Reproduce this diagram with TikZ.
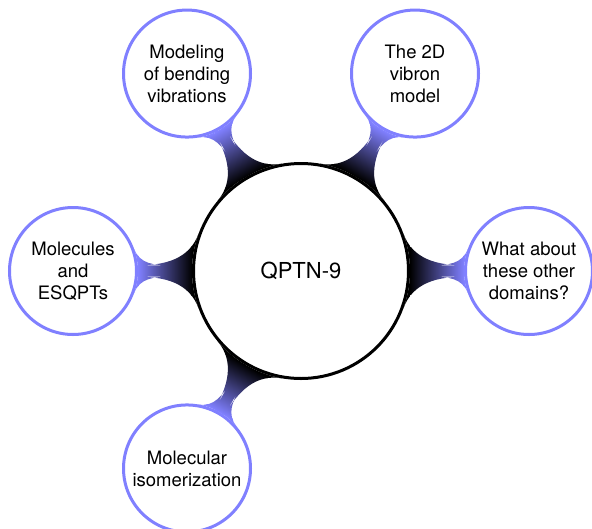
\documentclass[tikz,border=0pt]{standalone}
\usepackage{fontspec}
\setmainfont{TeX Gyre Heros}
\usetikzlibrary{mindmap,backgrounds,calc}
\definecolor{satblue}{RGB}{128,128,255}
\begin{document}
\begin{tikzpicture}[x=1pt,y=1pt,
  rootc/.style={circle, draw=black, fill=white, line width=3pt, minimum size=215pt, inner sep=0pt, align=center, font=\fontsize{22}{26}\selectfont},
  satc/.style={circle, draw=satblue, fill=white, line width=3pt, minimum size=127pt, inner sep=0pt, align=center, font=\fontsize{18.5}{22}\selectfont},
  bar/.style={circle connection bar switch color=from (black) to (satblue)}
]
\useasboundingbox (0,0) rectangle (592,-528);
\node[rootc] (root) at (301,-271) {QPTN-9};
\node[satc] (s1) at ($(root)+(0:228)$) {What about\\these other\\domains?};
\node[satc] (s2) at ($(root)+(60:228)$) {The 2D\\vibron\\model};
\node[satc] (s3) at ($(root)+(120:228)$) {Modeling\\of bending\\vibrations};
\node[satc] (s4) at ($(root)+(180:228)$) {Molecules\\and\\ESQPTs};
\node[satc] (s5) at ($(root)+(240:228)$) {Molecular\\isomerization};
\begin{pgfonlayer}{background}
\path (root) to[bar] (s1);
\path (root) to[bar] (s2);
\path (root) to[bar] (s3);
\path (root) to[bar] (s4);
\path (root) to[bar] (s5);
\end{pgfonlayer}
\end{tikzpicture}
\end{document}
